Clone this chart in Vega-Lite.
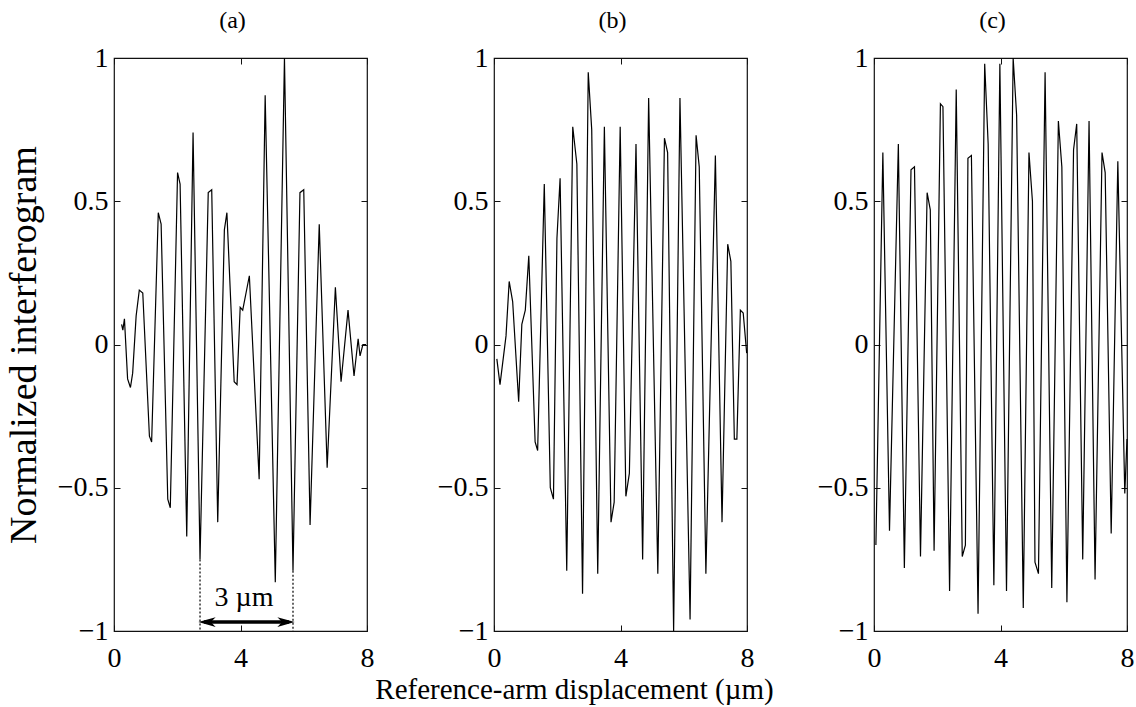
{
  "$schema": "https://vega.github.io/schema/vega-lite/v6.json",
  "background": "white",
  "padding": {"left": 4, "top": 8, "right": 5, "bottom": 5},
  "spacing": 127,
  "bounds": "flush",
  "config": {
    "view": {"stroke": "#111", "strokeWidth": 1.2},
    "axis": {"grid": false, "domain": false, "tickColor": "#111", "tickSize": -6, "tickWidth": 1,
      "labelFont": "Liberation Serif", "labelFontSize": 28, "labelColor": "black",
      "titleFont": "Liberation Serif", "titleFontWeight": "normal", "titleColor": "black",
      "labelFlush": false, "labelOverlap": false},
    "axisX": {"labelPadding": 19},
    "axisY": {"labelPadding": 12},
    "title": {"font": "Liberation Serif", "fontSize": 24, "fontWeight": "normal", "color": "black", "offset": 11, "anchor": "middle", "dx": -8}
  },
  "datasets": {
    "a": [
      {"x": 0.24, "v": 0.07}, {"x": 0.28, "v": 0.05}, {"x": 0.33, "v": 0.09}, {"x": 0.43, "v": -0.12},
      {"x": 0.52, "v": -0.15}, {"x": 0.59, "v": -0.1}, {"x": 0.70, "v": 0.1}, {"x": 0.80, "v": 0.19},
      {"x": 0.91, "v": 0.18}, {"x": 1.12, "v": -0.32}, {"x": 1.19, "v": -0.34}, {"x": 1.40, "v": 0.46},
      {"x": 1.49, "v": 0.42}, {"x": 1.70, "v": -0.54}, {"x": 1.78, "v": -0.57}, {"x": 2.01, "v": 0.6},
      {"x": 2.09, "v": 0.56}, {"x": 2.30, "v": -0.67}, {"x": 2.50, "v": 0.74}, {"x": 2.72, "v": -0.75},
      {"x": 2.98, "v": 0.53}, {"x": 3.09, "v": 0.54}, {"x": 3.28, "v": -0.62}, {"x": 3.49, "v": 0.4},
      {"x": 3.57, "v": 0.46}, {"x": 3.80, "v": -0.13}, {"x": 3.89, "v": -0.14}, {"x": 3.99, "v": 0.13},
      {"x": 4.07, "v": 0.12}, {"x": 4.28, "v": 0.24}, {"x": 4.59, "v": -0.47}, {"x": 4.78, "v": 0.87},
      {"x": 5.10, "v": -0.83}, {"x": 5.39, "v": 1.0}, {"x": 5.66, "v": -0.79}, {"x": 5.88, "v": 0.53},
      {"x": 6.00, "v": 0.54}, {"x": 6.20, "v": -0.63}, {"x": 6.49, "v": 0.42}, {"x": 6.74, "v": -0.43},
      {"x": 7.00, "v": 0.2}, {"x": 7.18, "v": -0.13}, {"x": 7.40, "v": 0.12}, {"x": 7.59, "v": -0.11},
      {"x": 7.72, "v": 0.02}, {"x": 7.78, "v": -0.04}, {"x": 7.87, "v": 0.0}, {"x": 7.97, "v": 0.0}
    ],
    "b": [
      {"x": 0.09, "v": -0.05}, {"x": 0.19, "v": -0.14}, {"x": 0.38, "v": 0.03}, {"x": 0.48, "v": 0.22},
      {"x": 0.59, "v": 0.15}, {"x": 0.78, "v": -0.2}, {"x": 0.88, "v": 0.07}, {"x": 0.99, "v": 0.12},
      {"x": 1.10, "v": 0.31}, {"x": 1.30, "v": -0.34}, {"x": 1.38, "v": -0.37}, {"x": 1.59, "v": 0.56},
      {"x": 1.78, "v": -0.5}, {"x": 1.88, "v": -0.54}, {"x": 1.99, "v": 0.37}, {"x": 2.09, "v": 0.58},
      {"x": 2.30, "v": -0.79}, {"x": 2.49, "v": 0.76}, {"x": 2.62, "v": 0.63}, {"x": 2.80, "v": -0.87},
      {"x": 2.98, "v": 0.95}, {"x": 3.09, "v": 0.75}, {"x": 3.28, "v": -0.8}, {"x": 3.49, "v": 0.76},
      {"x": 3.70, "v": -0.62}, {"x": 3.80, "v": -0.55}, {"x": 3.99, "v": 0.76}, {"x": 4.17, "v": -0.53},
      {"x": 4.28, "v": -0.45}, {"x": 4.49, "v": 0.7}, {"x": 4.70, "v": -0.75}, {"x": 4.89, "v": 0.86},
      {"x": 5.18, "v": -0.8}, {"x": 5.39, "v": 0.72}, {"x": 5.49, "v": 0.67}, {"x": 5.68, "v": -1.0},
      {"x": 5.88, "v": 0.86}, {"x": 6.20, "v": -0.96}, {"x": 6.39, "v": 0.73}, {"x": 6.49, "v": 0.62},
      {"x": 6.70, "v": -0.8}, {"x": 7.00, "v": 0.66}, {"x": 7.21, "v": -0.62}, {"x": 7.39, "v": 0.35},
      {"x": 7.49, "v": 0.29}, {"x": 7.60, "v": -0.33}, {"x": 7.68, "v": -0.33}, {"x": 7.79, "v": 0.12},
      {"x": 7.88, "v": 0.11}, {"x": 7.99, "v": -0.03}
    ],
    "c": [
      {"x": 0.06, "v": -0.7}, {"x": 0.28, "v": 0.67}, {"x": 0.49, "v": -0.65}, {"x": 0.77, "v": 0.7},
      {"x": 0.96, "v": -0.78}, {"x": 1.17, "v": 0.61}, {"x": 1.28, "v": 0.62}, {"x": 1.47, "v": -0.74},
      {"x": 1.68, "v": 0.53}, {"x": 1.78, "v": 0.47}, {"x": 1.90, "v": -0.72}, {"x": 2.10, "v": 0.84},
      {"x": 2.18, "v": 0.83}, {"x": 2.39, "v": -0.86}, {"x": 2.60, "v": 0.89}, {"x": 2.79, "v": -0.74},
      {"x": 2.89, "v": -0.7}, {"x": 2.97, "v": 0.65}, {"x": 3.08, "v": 0.66}, {"x": 3.29, "v": -0.94},
      {"x": 3.50, "v": 0.98}, {"x": 3.61, "v": 0.7}, {"x": 3.79, "v": -0.84}, {"x": 3.98, "v": 0.98},
      {"x": 4.19, "v": -0.86}, {"x": 4.40, "v": 1.0}, {"x": 4.51, "v": 0.8}, {"x": 4.72, "v": -0.92},
      {"x": 4.90, "v": 0.67}, {"x": 5.01, "v": 0.5}, {"x": 5.09, "v": -0.76}, {"x": 5.20, "v": -0.8},
      {"x": 5.41, "v": 0.95}, {"x": 5.62, "v": -0.85}, {"x": 5.83, "v": 0.78}, {"x": 5.94, "v": 0.62},
      {"x": 6.10, "v": -0.9}, {"x": 6.31, "v": 0.68}, {"x": 6.41, "v": 0.77}, {"x": 6.60, "v": -0.75},
      {"x": 6.80, "v": 0.78}, {"x": 6.99, "v": -0.82}, {"x": 7.21, "v": 0.67}, {"x": 7.31, "v": 0.6},
      {"x": 7.50, "v": -0.66}, {"x": 7.71, "v": 0.64}, {"x": 7.93, "v": -0.52}, {"x": 8.0, "v": -0.33}
    ],
    "dots": [
      {"x": 2.72, "v": -0.75, "v2": -1},
      {"x": 5.66, "v": -0.79, "v2": -1}
    ],
    "arrow": [
      {"x": 2.85, "x2": 5.53, "v": -0.969}
    ],
    "heads": [
      {"x": 2.94, "v": -0.969, "side": "left"},
      {"x": 5.44, "v": -0.969, "side": "right"}
    ],
    "label": [
      {"x": 4.11, "v": -0.885, "text": "3 µm"}
    ]
  },
  "hconcat": [
    {
      "width": 253, "height": 573,
      "title": {"text": "(a)"},
      "resolve": {"axis": {"x": "independent", "y": "independent"}},
      "layer": [
        {
          "data": {"name": "a"},
          "mark": {"type": "line", "color": "black", "strokeWidth": 1.2},
          "encoding": {
            "x": {"field": "x", "type": "quantitative", "scale": {"domain": [0, 8], "nice": false, "zero": false},
              "axis": {"orient": "bottom", "values": [0, 4, 8], "format": "~g", "title": null}},
            "y": {"field": "v", "type": "quantitative", "scale": {"domain": [-1, 1], "nice": false, "zero": false},
              "axis": {"orient": "left", "values": [-1, -0.5, 0, 0.5, 1], "format": "~g", "title": "Normalized interferogram", "titleFontSize": 38, "titlePadding": 14}}
          }
        },
        {
          "data": {"name": "a"},
          "mark": {"type": "line", "opacity": 0},
          "encoding": {
            "x": {"field": "x", "type": "quantitative", "axis": {"orient": "top", "values": [0, 4, 8], "labels": false, "title": null}},
            "y": {"field": "v", "type": "quantitative", "axis": {"orient": "right", "values": [-1, -0.5, 0, 0.5, 1], "labels": false, "title": null}}
          }
        },
        {
          "data": {"name": "dots"},
          "mark": {"type": "rule", "color": "black", "strokeWidth": 1.2, "strokeDash": [2, 2]},
          "encoding": {
            "x": {"field": "x", "type": "quantitative", "axis": null},
            "y": {"field": "v", "type": "quantitative", "axis": null},
            "y2": {"field": "v2"}
          }
        },
        {
          "data": {"name": "arrow"},
          "mark": {"type": "rule", "color": "black", "strokeWidth": 3.5},
          "encoding": {
            "x": {"field": "x", "type": "quantitative", "axis": null},
            "x2": {"field": "x2"},
            "y": {"field": "v", "type": "quantitative", "axis": null}
          }
        },
        {
          "data": {"name": "heads"},
          "mark": {"type": "point", "filled": true, "color": "black", "opacity": 1, "size": 300},
          "encoding": {
            "x": {"field": "x", "type": "quantitative", "axis": null},
            "y": {"field": "v", "type": "quantitative", "axis": null},
            "shape": {"field": "side", "type": "nominal", "legend": null,
              "scale": {"domain": ["left", "right"], "range": ["M-1,0L1,-0.55L0.45,0L1,0.55Z", "M1,0L-1,-0.55L-0.45,0L-1,0.55Z"]}}
          }
        },
        {
          "data": {"name": "label"},
          "mark": {"type": "text", "font": "Liberation Serif", "fontSize": 28, "color": "black", "align": "center", "baseline": "middle"},
          "encoding": {
            "x": {"field": "x", "type": "quantitative", "axis": null},
            "y": {"field": "v", "type": "quantitative", "axis": null},
            "text": {"field": "text"}
          }
        }
      ]
    },
    {
      "width": 253, "height": 573,
      "title": {"text": "(b)"},
      "resolve": {"axis": {"x": "independent", "y": "independent"}},
      "layer": [
        {
          "data": {"name": "b"},
          "mark": {"type": "line", "color": "black", "strokeWidth": 1.2},
          "encoding": {
            "x": {"field": "x", "type": "quantitative", "scale": {"domain": [0, 8], "nice": false, "zero": false},
              "axis": {"orient": "bottom", "values": [0, 4, 8], "format": "~g", "title": "Reference-arm displacement (µm)", "titleFontSize": 29, "titlePadding": 3, "titleX": 80}},
            "y": {"field": "v", "type": "quantitative", "scale": {"domain": [-1, 1], "nice": false, "zero": false},
              "axis": {"orient": "left", "values": [-1, -0.5, 0, 0.5, 1], "format": "~g", "title": null}}
          }
        },
        {
          "data": {"name": "b"},
          "mark": {"type": "line", "opacity": 0},
          "encoding": {
            "x": {"field": "x", "type": "quantitative", "axis": {"orient": "top", "values": [0, 4, 8], "labels": false, "title": null}},
            "y": {"field": "v", "type": "quantitative", "axis": {"orient": "right", "values": [-1, -0.5, 0, 0.5, 1], "labels": false, "title": null}}
          }
        }
      ]
    },
    {
      "width": 253, "height": 573,
      "title": {"text": "(c)"},
      "resolve": {"axis": {"x": "independent", "y": "independent"}},
      "layer": [
        {
          "data": {"name": "c"},
          "mark": {"type": "line", "color": "black", "strokeWidth": 1.2},
          "encoding": {
            "x": {"field": "x", "type": "quantitative", "scale": {"domain": [0, 8], "nice": false, "zero": false},
              "axis": {"orient": "bottom", "values": [0, 4, 8], "format": "~g", "title": null}},
            "y": {"field": "v", "type": "quantitative", "scale": {"domain": [-1, 1], "nice": false, "zero": false},
              "axis": {"orient": "left", "values": [-1, -0.5, 0, 0.5, 1], "format": "~g", "title": null}}
          }
        },
        {
          "data": {"name": "c"},
          "mark": {"type": "line", "opacity": 0},
          "encoding": {
            "x": {"field": "x", "type": "quantitative", "axis": {"orient": "top", "values": [0, 4, 8], "labels": false, "title": null}},
            "y": {"field": "v", "type": "quantitative", "axis": {"orient": "right", "values": [-1, -0.5, 0, 0.5, 1], "labels": false, "title": null}}
          }
        }
      ]
    }
  ]
}
